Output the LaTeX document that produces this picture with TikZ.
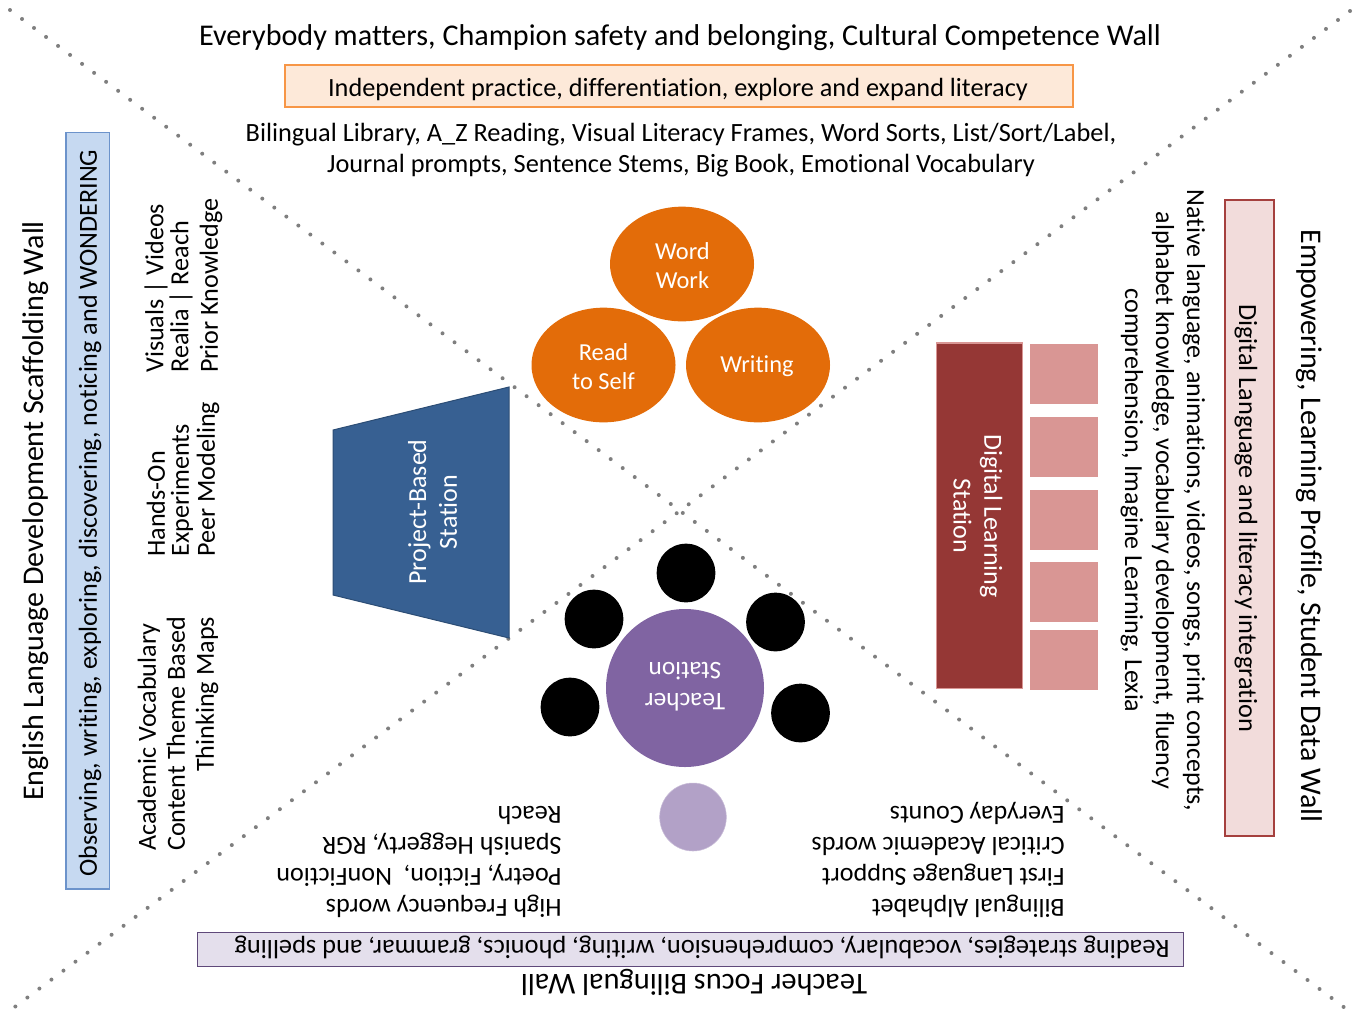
\documentclass[tikz,border=0pt]{standalone}
\usepackage{fontspec}
\setmainfont[Ligatures=CommonOff]{Carlito}
\newcommand{\fsz}[2]{\fontsize{#1}{#2}\selectfont}
\definecolor{orangeF}{HTML}{E36C09}
\definecolor{peachF}{HTML}{FDE9D9}
\definecolor{peachD}{HTML}{F79646}
\definecolor{blueF}{HTML}{C6D9F1}
\definecolor{blueD}{HTML}{6C93CB}
\definecolor{navyF}{HTML}{376092}
\definecolor{navyD}{HTML}{2C4D75}
\definecolor{redF}{HTML}{953735}
\definecolor{roseF}{HTML}{D99694}
\definecolor{pinkF}{HTML}{F2DCDB}
\definecolor{pinkD}{HTML}{A5403E}
\definecolor{violetF}{HTML}{8064A2}
\definecolor{violetL}{HTML}{B2A1C7}
\definecolor{lilacF}{HTML}{E4DFEC}
\definecolor{lilacD}{HTML}{5F497A}
\definecolor{dotgray}{HTML}{7F7F7F}
\tikzset{
  x=0.75pt,y=-0.75pt,
  dotline/.style={draw=dotgray,line width=3pt,line cap=round,dash pattern=on 0pt off 11.25pt},
  walltitle/.style={font=\fsz{22.5}{27},inner sep=0pt,text=black},
  bartext/.style={font=\fsz{19.7}{23},inner sep=0pt,text=black},
  body/.style={font=\fsz{19.6}{23.25},inner sep=0pt,align=center,text=black},
  whitetext/.style={font=\fsz{18.3}{21.75},inner sep=0pt,align=center,text=white},
  whiterot/.style={font=\fsz{19.5}{23},inner sep=0pt,align=center,text=white},
  listtext/.style={font=\fsz{19.6}{23.25},inner sep=0pt,align=left,rotate=180,anchor=north west,text=black},
  barbox/.style={rectangle,inner sep=0pt,line width=1pt},
  disc/.style={circle,fill=black,inner sep=0pt,minimum size=44pt},
  lobe/.style={ellipse,fill=orangeF,inner sep=0pt,minimum width=108pt,minimum height=86pt},
  tile/.style={rectangle,fill=roseF,inner sep=0pt,minimum width=51pt,minimum height=45pt},
}
\usetikzlibrary{shapes.geometric}
\begin{document}
\begin{tikzpicture}
\useasboundingbox (0,0) rectangle (1359,1015);
% dotted diagonals
\coordinate (ctl) at (10,10);
\coordinate (cbr) at (1345,1008);
\coordinate (ctr) at (1350,11);
\coordinate (cbl) at (12,1009);
\draw[dotline] (ctl) -- (cbr);
\draw[dotline] (ctr) -- (cbl);
% top
\node[walltitle,font=\fsz{22.6}{27}] (toptitle) at (680,38) {Everybody matters, Champion safety and belonging, Cultural Competence Wall};
\node[barbox,draw=peachD,fill=peachF,minimum width=591pt,minimum height=31.5pt] (topbar) at (679,86) {};
\node[bartext] (topbartext) at (678,89.5) {Independent practice, differentiation, explore and expand literacy};
\node[body,font=\fsz{19.75}{23.25}] (topbody) at (681,150) {Bilingual Library, A\_Z Reading, Visual Literacy Frames, Word Sorts, List/Sort/Label,\\Journal prompts, Sentence Stems, Big Book, Emotional Vocabulary};
% stations: word work
\node[lobe] (word) at (682,264) {};
\node[lobe] (read) at (603.5,365) {};
\node[lobe] (writing) at (758,365) {};
\node[whitetext] at (682.5,265.5) {Word\\Work};
\node[whitetext] at (603.5,366.5) {Read\\to Self};
\node[whitetext] at (757,366) {Writing};
% project
\coordinate (ta) at (333,430);
\coordinate (tb) at (509,387);
\coordinate (tc) at (509,638);
\coordinate (td) at (333,595);
\draw[fill=navyF,draw=navyD,line width=0.75pt] (ta) -- (tb) -- (tc) -- (td) -- cycle;
\node[whiterot,rotate=90] (project) at (432.5,512) {Project-Based\\Station};
% digital
\node[barbox,fill=redF,draw=roseF,minimum width=64.5pt,minimum height=259pt] (digital) at (979.7,515.5) {};
\node[whiterot,rotate=-90] (digitaltext) at (978,516) {Digital Learning\\Station};
\node[tile] (t1) at (1063.5,374) {};
\node[tile] (t2) at (1063.5,447) {};
\node[tile] (t3) at (1063.5,520) {};
\node[tile] (t4) at (1063.5,592) {};
\node[tile] (t5) at (1063.5,660) {};
% teacher
\node[circle,fill=violetF,inner sep=0pt,minimum size=118.5pt] (teacher) at (685,688) {};
\node[whiterot,rotate=180,font=\fsz{19}{23}] (teachertext) at (685,687) {Teacher\\Station};
\node[disc] (s1) at (686,573) {};
\node[disc] (s2) at (594,619) {};
\node[disc] (s3) at (775.5,622) {};
\node[disc] (s4) at (570,707) {};
\node[disc] (s5) at (800.5,713) {};
\node[ellipse,fill=violetL,draw=violetL!70!white,inner sep=0pt,minimum width=50pt,minimum height=51pt] (lightdisc) at (693,817) {};
% bottom
\node[listtext] (listL) at (562,918) {High Frequency words\\Poetry, Fiction,\ \ NonFiction\\Spanish Heggerty, RGR\\Reach};
\node[listtext] (listR) at (1065,918) {Bilingual Alphabet\\First Language Support\\Critical Academic words\\Everyday Counts};
\node[barbox,fill=lilacF,draw=lilacD,line width=0.75pt,minimum width=739.5pt,minimum height=26pt] (botbar) at (690,949.5) {};
\node[bartext,rotate=180,font=\fsz{19.8}{23}] (botbartext) at (702,947) {Reading strategies, vocabulary, comprehension, writing, phonics, grammar, and spelling};
\node[walltitle,rotate=180,font=\fsz{22.75}{27}] (bottitle) at (694,982) {Teacher Focus Bilingual Wall};
% left
\node[walltitle,rotate=90] (lefttitle) at (36,511) {English Language Development Scaffolding Wall};
\node[barbox,fill=blueF,draw=blueD,minimum width=567.5pt,minimum height=32.5pt,rotate=90] (leftbar) at (87.5,510.5) {};
\node[bartext,rotate=90,font=\fsz{19.55}{23}] (leftbartext) at (90,513) {Observing, writing, exploring, discovering, noticing and WONDERING};
\node[body,rotate=90,anchor=west] (l1a) at (156,373) {Visuals | Videos};
\node[body,rotate=90,anchor=west] (l1b) at (181,373) {Realia | Reach};
\node[body,rotate=90,anchor=west] (l1c) at (211,373) {Prior Knowledge};
\node[body,rotate=90,anchor=west] (l2a) at (156,557) {Hands-On};
\node[body,rotate=90,anchor=west] (l2b) at (182,557) {Experiments};
\node[body,rotate=90,anchor=west] (l2c) at (208,557) {Peer Modeling};
\node[body,rotate=90,anchor=west] (l3a) at (149,851) {Academic Vocabulary};
\node[body,rotate=90,anchor=west] (l3b) at (176,851) {Content Theme Based};
\node[body,rotate=90,anchor=west] (l3c) at (207,772) {Thinking Maps};
% right
\node[walltitle,rotate=-90] (righttitle) at (1309,526) {Empowering, Learning Profile, Student Data Wall};
\node[barbox,fill=pinkF,draw=pinkD,minimum width=477pt,minimum height=36.75pt,rotate=-90] (rightbar) at (1249.5,518) {};
\node[bartext,rotate=-90] (rightbartext) at (1246,518) {Digital Language and literacy integration};
\node[body,rotate=-90,font=\fsz{19.5}{23.25}] (rightbody) at (1163,500.5) {Native language, animations, videos, songs, print concepts,\\alphabet knowledge, vocabulary development, fluency\\comprehension, Imagine Learning, Lexia};
\end{tikzpicture}
\end{document}
